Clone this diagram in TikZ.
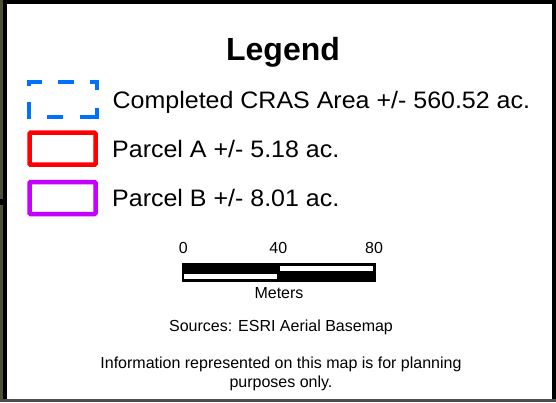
\documentclass[tikz,border=0pt]{standalone}
\usepackage{fontspec}
\setmainfont{Liberation Sans}
\newfontfamily\widefont[FakeStretch=1.05]{Liberation Sans}
\definecolor{crasblue}{RGB}{0,112,255}
\definecolor{parcelred}{RGB}{255,0,0}
\definecolor{parcelpurple}{RGB}{197,0,255}
\definecolor{mapstrip}{RGB}{78,80,58}
\begin{document}
\begin{tikzpicture}[x=1pt,y=-1pt,
  bigtext/.style={font=\widefont\fontsize{23.8}{28}\selectfont, anchor=base west, inner sep=0pt},
  smalltext/.style={font=\fontsize{16}{19}\selectfont, anchor=base, inner sep=0pt},
  swatch/.style={draw, line width=4.5pt, minimum width=66pt, minimum height=32pt, inner sep=0pt, rounded corners=1pt},
  dashline/.style={crasblue, line width=4.5pt, line cap=butt, line join=miter}]
\useasboundingbox (0,0) rectangle (556,402);
% background and frame
\fill[white] (0,0) rectangle (556,402);
\fill[mapstrip] (0,0) rectangle (4,402);
\fill[black] (3,0) rectangle (556,402);
\fill[black!70] (3,399.3) rectangle (556,402);
\fill[white] (7,4) rectangle (551.7,399.3);
\fill[black] (0,199) rectangle (4,205);
% title
\node[font=\bfseries\fontsize{32}{38}\selectfont, anchor=base, inner sep=0pt] (title) at (283,60.5) {Legend};
% CRAS dashed swatch
\draw[dashline] (29,86) -- (29,82) -- (41.5,82);
\draw[dashline] (58.3,82) -- (74,82);
\draw[dashline] (90,82) -- (97,82) -- (97,90);
\draw[dashline] (97,107.7) -- (97,117) -- (79.5,117);
\draw[dashline] (63.3,117) -- (47.3,117);
\draw[dashline] (29,118.6) -- (29,101.7);
\node[bigtext] (tcras) at (112.5,108) {Completed CRAS Area +/- 560.52 ac.};
% parcels
\node[swatch, draw=parcelred] (swa) at (62.5,148.7) {};
\node[bigtext] (ta) at (112,157) {Parcel A +/- 5.18 ac.};
\node[swatch, draw=parcelpurple] (swb) at (62.5,198) {};
\node[bigtext] (tb) at (112,206.3) {Parcel B +/- 8.01 ac.};
% scale bar
\fill[black] (181.7,263.3) rectangle (376,281.7);
\fill[white] (280,266) rectangle (373.3,271);
\fill[white] (184,274) rectangle (277.3,279);
\node[smalltext] (s0) at (183.3,253.3) {0};
\node[smalltext] (s40) at (278.3,253.3) {40};
\node[smalltext] (s80) at (374,253.3) {80};
\node[smalltext] (meters) at (279,298.3) {Meters};
% notes
\node[smalltext] (sources) at (281,331.7) {Sources: ESRI Aerial Basemap};
\node[smalltext] (info1) at (281,368.3) {Information represented on this map is for planning};
\node[smalltext] (info2) at (281,387.3) {purposes only.};
\end{tikzpicture}
\end{document}
